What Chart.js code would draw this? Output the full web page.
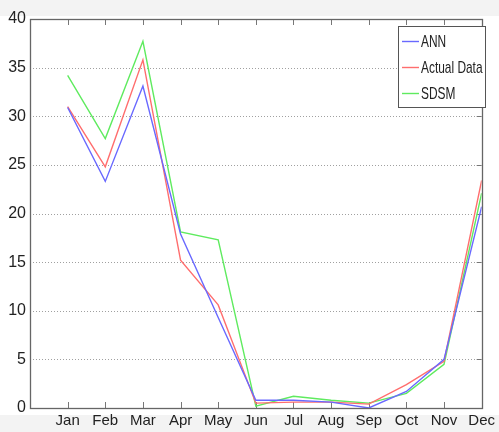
<!DOCTYPE html>
<html>
<head>
<meta charset="utf-8">
<script src="https://cdn.jsdelivr.net/npm/chart.js@4"></script>
<style>
  html, body { margin: 0; padding: 0; background: #fff; }
  #wrap { width: 499px; height: 432px; position: relative; }
</style>
</head>
<body>
<div id="wrap"><canvas id="chart"></canvas></div>
<script>
// months on the x axis (Jan = 1 ... Dec = 12)
const months = ['Jan', 'Feb', 'Mar', 'Apr', 'May', 'Jun', 'Jul', 'Aug', 'Sep', 'Oct', 'Nov', 'Dec'];
const yTicks = [0, 5, 10, 15, 20, 25, 30, 35, 40];

// series
const annValues    = [30.9, 23.3, 33.1, 17.9, 9.3, 0.8, 0.8, 0.6, 0.0, 1.7, 5.0, 20.7];
const actualValues = [31.0, 24.8, 35.8, 15.2, 10.6, 0.5, 0.6, 0.6, 0.4, 2.4, 4.8, 23.4];
const sdsmValues   = [34.2, 27.7, 37.7, 18.1, 17.3, 0.2, 1.2, 0.8, 0.5, 1.5, 4.5, 22.1];

const FONT = '"Liberation Sans", Arial, sans-serif';

function toPoints(values) {
    return values.map((v, i) => ({ x: i + 1, y: v }));
}

// MATLAB style box: dotted grid, frame, inward ticks, legend box
const boxPlugin = {
    id: 'box',
    beforeDraw(chart) {
        const ctx = chart.ctx;
        ctx.save();
        ctx.fillStyle = '#ffffff';
        ctx.fillRect(0, 0, chart.width, chart.height);
        ctx.fillStyle = '#f3f3f3';
        ctx.fillRect(0, 0, chart.width, 16);
        ctx.fillRect(0, 415, chart.width, chart.height - 415);
        ctx.restore();
    },
    beforeDatasetsDraw(chart) {
        const { ctx, chartArea: a, scales: { x, y } } = chart;
        ctx.save();
        // dotted horizontal grid
        ctx.strokeStyle = '#a0a0a0';
        ctx.lineWidth = 1;
        ctx.setLineDash([1, 2]);
        yTicks.forEach(t => {
            if (t === 0 || t === 40) return;
            const py = Math.round(y.getPixelForValue(t)) + 0.5;
            ctx.beginPath();
            ctx.moveTo(a.left, py);
            ctx.lineTo(a.right, py);
            ctx.stroke();
        });
        ctx.setLineDash([]);
        // tick marks
        ctx.strokeStyle = '#777';
        months.forEach((m, i) => {
            const px = Math.round(x.getPixelForValue(i + 1)) + 0.5;
            ctx.beginPath();
            ctx.moveTo(px, a.bottom);
            ctx.lineTo(px, a.bottom - 6);
            ctx.moveTo(px, a.top);
            ctx.lineTo(px, a.top + 6);
            ctx.stroke();
        });
        yTicks.forEach(t => {
            const py = Math.round(y.getPixelForValue(t)) + 0.5;
            ctx.beginPath();
            ctx.moveTo(a.right, py);
            ctx.lineTo(a.right - 5, py);
            ctx.stroke();
        });
        ctx.restore();
    },
    afterDatasetsDraw(chart) {
        const { ctx, chartArea: a } = chart;
        ctx.save();
        ctx.strokeStyle = '#666';
        ctx.lineWidth = 1.3;
        ctx.strokeRect(Math.round(a.left) + 0.5, Math.round(a.top) + 0.5,
                       Math.round(a.right - a.left), Math.round(a.bottom - a.top));

        // legend
        const lx = 398, ly = 26, lw = 87, lh = 81;
        ctx.fillStyle = '#fff';
        ctx.fillRect(lx, ly, lw, lh);
        ctx.strokeStyle = '#555';
        ctx.lineWidth = 1;
        ctx.strokeRect(lx + 0.5, ly + 0.5, lw, lh);
        ctx.textBaseline = 'middle';
        chart.data.datasets.forEach((ds, i) => {
            const cy = ly + 15 + i * 26;
            ctx.strokeStyle = ds.borderColor;
            ctx.lineWidth = 1.4;
            ctx.beginPath();
            ctx.moveTo(lx + 4, cy + 0.5);
            ctx.lineTo(lx + 21, cy + 0.5);
            ctx.stroke();
            // narrow text like the original
            ctx.save();
            ctx.translate(lx + 23, cy + 1);
            ctx.scale(0.7, 1);
            ctx.font = '17px ' + FONT;
            ctx.fillStyle = '#222';
            ctx.fillText(ds.label, 0, 0);
            ctx.restore();
        });
        ctx.restore();
    }
};

new Chart(document.getElementById('chart'), {
    type: 'line',
    data: {
        datasets: [
            { label: 'ANN', data: toPoints(annValues), borderColor: 'rgb(105,105,255)' },
            { label: 'Actual Data', data: toPoints(actualValues), borderColor: 'rgb(255,110,110)' },
            { label: 'SDSM', data: toPoints(sdsmValues), borderColor: 'rgb(95,235,95)' }
        ]
    },
    options: {
        responsive: true,
        maintainAspectRatio: false,
        animation: false,
        elements: {
            line: { borderWidth: 1.4, tension: 0 },
            point: { radius: 0 }
        },
        layout: { padding: { left: 0, right: 11, top: 19, bottom: 0 } },
        plugins: {
            legend: { display: false },
            tooltip: { enabled: false }
        },
        scales: {
            x: {
                type: 'linear',
                min: 0,
                max: 12,
                grid: { display: false, drawTicks: false },
                border: { display: false },
                afterFit(s) { s.height = 24; },
                ticks: {
                    stepSize: 1,
                    autoSkip: false,
                    maxRotation: 0,
                    padding: 4,
                    color: '#222',
                    font: { family: FONT, size: 15 },
                    callback: v => (v >= 1 && v <= 12 ? months[v - 1] : '')
                }
            },
            y: {
                min: 0,
                max: 40,
                grid: { display: false, drawTicks: false },
                border: { display: false },
                afterFit(s) { s.width = 30; },
                ticks: {
                    stepSize: 5,
                    padding: 4,
                    color: '#222',
                    font: { family: FONT, size: 16 }
                }
            }
        }
    },
    plugins: [boxPlugin]
});
</script>
</body>
</html>
